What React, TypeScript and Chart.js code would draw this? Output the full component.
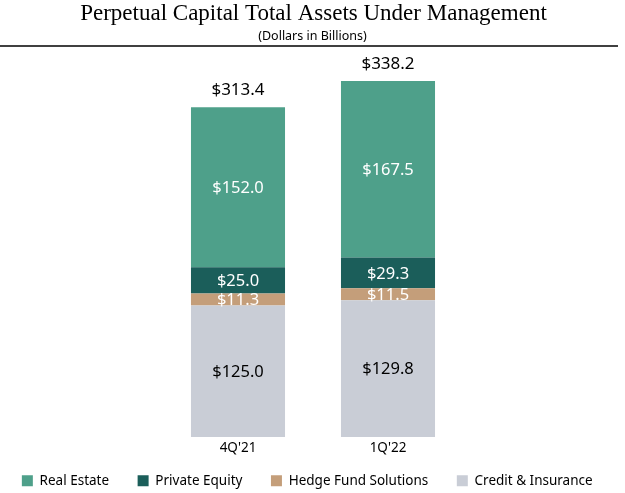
import { useEffect, useRef } from "react";
import { Chart, registerables } from "chart.js";

Chart.register(...registerables);

const categories = ["4Q'21", "1Q'22"];
const seriesNames = ["Credit & Insurance", "Hedge Fund Solutions", "Private Equity", "Real Estate"];
const creditInsurance = [125.0, 129.8];
const hedgeFundSolutions = [11.3, 11.5];
const privateEquity = [25.0, 29.3];
const realEstate = [152.0, 167.5];
const totals = [313.4, 338.2];

const colors = ["#C9CDD6", "#C49E7A", "#1B5E5A", "#4EA08A"];
const labelColors = ["#000000", "#FFFFFF", "#FFFFFF", "#FFFFFF"];

const FONT = "'Noto Sans', sans-serif";

const headerPlugin = {
  id: "header",
  afterDraw(chart: any) {
    const { ctx, width } = chart;
    ctx.save();
    ctx.fillStyle = "#000";
    ctx.textAlign = "center";
    ctx.textBaseline = "middle";
    ctx.font = "23px 'Liberation Serif', serif";
    ctx.fillText("Perpetual Capital Total Assets Under Management", width / 2 + 1, 14);
    ctx.font = `12.5px ${FONT}`;
    ctx.fillText("(Dollars in Billions)", width / 2, 36);
    ctx.strokeStyle = "#000";
    ctx.lineWidth = 1.5;
    ctx.beginPath();
    ctx.moveTo(0, 46);
    ctx.lineTo(width - 7, 46);
    ctx.stroke();
    ctx.restore();
  },
};

const labelPlugin = {
  id: "barLabels",
  afterDatasetsDraw(chart: any) {
    const { ctx } = chart;
    ctx.save();
    ctx.textAlign = "center";
    ctx.textBaseline = "middle";
    chart.data.datasets.forEach((ds: any, di: number) => {
      const meta = chart.getDatasetMeta(di);
      meta.data.forEach((bar: any, i: number) => {
        const v = ds.data[i];
        ctx.fillStyle = labelColors[di];
        ctx.font = `16.5px ${FONT}`;
        ctx.fillText("$" + v.toFixed(1), bar.x, (bar.y + bar.base) / 2 + 1);
      });
    });
    const topMeta = chart.getDatasetMeta(chart.data.datasets.length - 1);
    topMeta.data.forEach((bar: any, i: number) => {
      ctx.fillStyle = "#000";
      ctx.font = `17px ${FONT}`;
      ctx.fillText("$" + totals[i].toFixed(1), bar.x, bar.y - 17);
    });
    ctx.restore();
  },
};

export default function App() {
  const ref = useRef<HTMLCanvasElement>(null);
  useEffect(() => {
    if (!ref.current) return;
    const series = [creditInsurance, hedgeFundSolutions, privateEquity, realEstate];
    const chart = new Chart(ref.current, {
      type: "bar",
      data: {
        labels: categories,
        datasets: series.map((d, i) => ({
          label: seriesNames[i],
          data: d,
          backgroundColor: colors[i],
          borderWidth: 0,
          barPercentage: 0.627,
          categoryPercentage: 1,
        })),
      },
      options: {
        responsive: true,
        maintainAspectRatio: false,
        animation: false,
        layout: { padding: { top: 58, bottom: 0, left: 0, right: 0 } },
        plugins: {
          title: { display: false },
          tooltip: { enabled: false },
          legend: {
            position: "bottom",
            reverse: true,
            maxHeight: 37,
            labels: {
              boxWidth: 11,
              boxHeight: 11,
              padding: 18,
              color: "#000",
              font: { family: FONT, size: 13.5 },
              generateLabels: (c: any) => {
                const base = Chart.defaults.plugins.legend.labels.generateLabels(c);
                return base.map((l: any) => ({ ...l, text: l.text + "   " }));
              },
            },
          },
        },
        scales: {
          x: {
            stacked: true,
            grid: { display: false, drawTicks: false },
            border: { display: false },
            ticks: { color: "#000", font: { family: FONT, size: 13.5 }, padding: 3 },
            afterFit: (s: any) => {
              s.height = 19;
            },
          },
          y: {
            stacked: true,
            min: 0,
            max: 360,
            position: "left",
            grid: { display: false, drawTicks: false },
            border: { display: false },
            ticks: { display: false },
            afterFit: (s: any) => {
              s.width = 163;
            },
          },
          y2: {
            type: "linear",
            min: 0,
            max: 360,
            position: "right",
            grid: { display: false, drawTicks: false },
            border: { display: false },
            ticks: { display: false },
            afterFit: (s: any) => {
              s.width = 162;
            },
          },
        },
      } as any,
      plugins: [headerPlugin, labelPlugin],
    });
    return () => chart.destroy();
  }, []);
  return (
    <div style={{ position: "absolute", left: 0, top: 0, width: 625, height: 493, background: "#fff" }}>
      <canvas ref={ref} />
    </div>
  );
}
